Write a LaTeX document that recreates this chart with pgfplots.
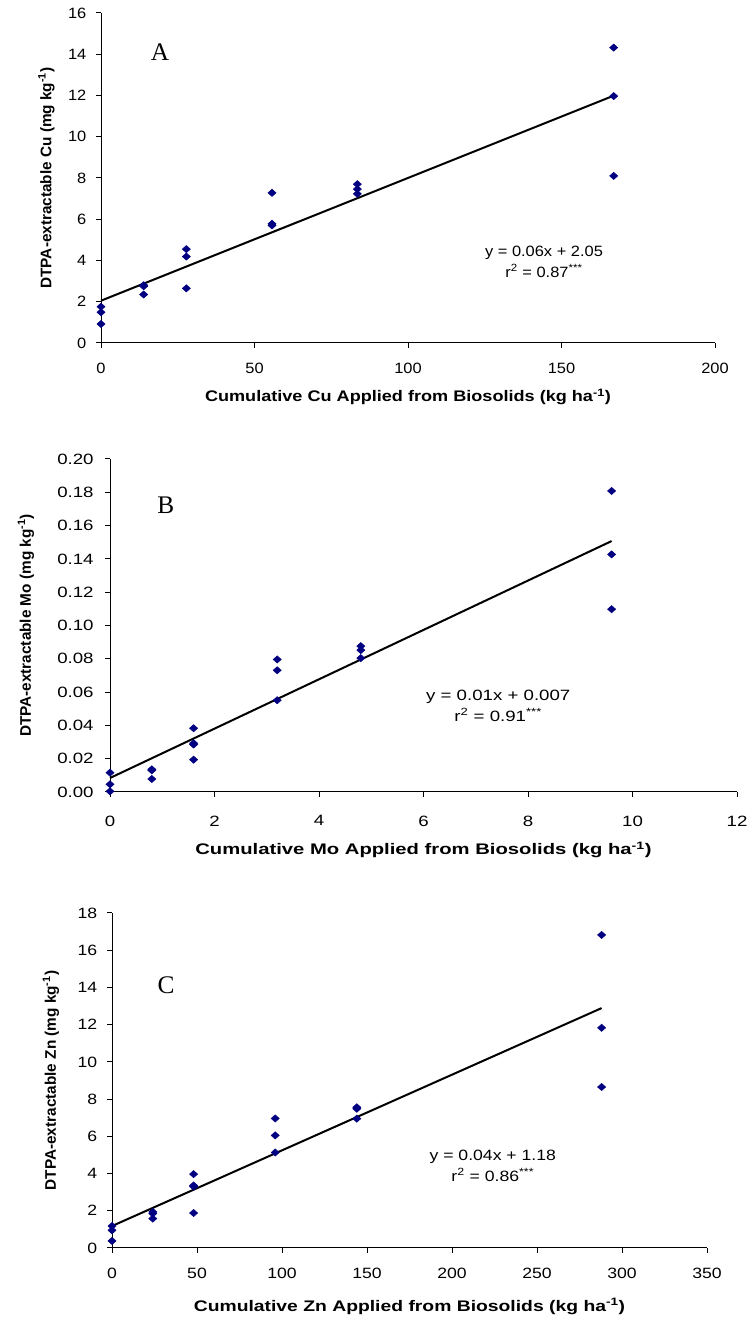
\documentclass[border=0pt]{standalone}
\usepackage{pgfplots}
\pgfplotsset{compat=1.18}
\usepackage{fontspec}
\setmainfont{Liberation Sans}
\newfontfamily\timesf{Liberation Serif}
\newfontfamily\fA{Liberation Sans}[FakeStretch=1.1]
\newfontfamily\fAx{Liberation Sans}[FakeStretch=1.18]
\newfontfamily\fB{Liberation Sans}[FakeStretch=1.25]
\newfontfamily\fBx{Liberation Sans}[FakeStretch=1.32]
\newfontfamily\fC{Liberation Sans}[FakeStretch=1.18]
\newfontfamily\fCx{Liberation Sans}[FakeStretch=1.26]
\definecolor{navy}{RGB}{0,0,128}
\pgfplotsset{
 panel/.style={
  scale only axis,
  axis x line*=bottom, axis y line*=left,
  axis line style={line width=0.75pt,black},
  tick align=outside,
  tick style={black, line width=0.75pt},
  major tick length=3.75pt,
  xtick pos=bottom, ytick pos=left,
  /pgf/number format/assume math mode=true,
  ylabel style={font=\bfseries\fontsize{11.5}{13}\selectfont, rotate=0},
  clip=false,
 },
 pts/.style={only marks, mark=diamond*, mark size=2.7pt, color=navy, mark options={fill=navy, xscale=1.5}},
 fit/.style={no marks, black, line width=1.5pt},
}
\begin{document}
\begin{tikzpicture}
\useasboundingbox (0,0) rectangle (560.25pt,989.25pt);
% ---------- Panel A ----------
\begin{axis}[panel, at={(75.75pt,732pt)}, anchor=origin,
  width=460.5pt, height=247.5pt,
  xmin=0, xmax=200, ymin=0, ymax=16,
  xtick={0,50,100,150,200}, ytick={0,2,...,16},
  tick label style={font=\fA\fontsize{11.2}{13}\selectfont},
  xticklabel style={yshift=-8pt},
  yticklabel style={xshift=-3.75pt},
  xlabel={Cumulative Cu Applied from Biosolids (kg ha\textsuperscript{-1})},
  ylabel={DTPA-extractable Cu (mg kg\textsuperscript{-1})},
  xlabel style={font=\fAx\bfseries\fontsize{11.5}{13}\selectfont, at={(axis description cs:0.5,0)}, anchor=center, yshift=-40.5pt},
  ylabel style={at={(axis description cs:-0.089,0.5)}, anchor=center},
]
\addplot[pts] table {
0 1.76
0 1.49
0 0.92
13.9 2.80
13.9 2.75
13.9 2.35
27.8 4.55
27.8 4.19
27.8 2.65
55.7 7.28
55.7 5.78
55.7 5.70
83.5 7.70
83.5 7.46
83.5 7.23
167 14.32
167 11.97
167 8.10
};
\addplot[fit] coordinates {(0,2.05) (167,11.99)};
\node[font=\timesf\fontsize{19}{21}\selectfont] at (axis cs:19.2,14.1) {A};
\node[font=\fA\fontsize{11.2}{15.75}\selectfont, align=center] at (axis cs:144.3,3.95) {y = 0.06x + 2.05\\ r\textsuperscript{2} = 0.87\textsuperscript{***}};
\end{axis}
% ---------- Panel B ----------
\begin{axis}[panel, at={(82.5pt,395.25pt)}, anchor=origin,
  width=470.25pt, height=249.75pt,
  xmin=0, xmax=12, ymin=0, ymax=0.2,
  xtick={0,2,...,12}, ytick={0,0.02,0.04,0.06,0.08,0.10,0.12,0.14,0.16,0.18,0.20},
  tick label style={font=\fB\fontsize{11.2}{13}\selectfont},
  xticklabel style={yshift=-10.5pt},
  yticklabel style={xshift=-5pt, /pgf/number format/.cd, fixed, fixed zerofill, precision=2},
  scaled y ticks=false,
  xlabel={Cumulative Mo Applied from Biosolids (kg ha\textsuperscript{-1})},
  ylabel={DTPA-extractable Mo (mg kg\textsuperscript{-1})},
  xlabel style={font=\fBx\bfseries\fontsize{11.5}{13}\selectfont, at={(axis description cs:0.5,0)}, anchor=center, yshift=-43.5pt},
  ylabel style={at={(axis description cs:-0.134,0.5)}, anchor=center},
]
\addplot[pts] table {
0 0.0116
0 0.0046
0 0.0004
0.8 0.0136
0.8 0.0130
0.8 0.0078
1.6 0.0383
1.6 0.0293
1.6 0.0285
1.6 0.0194
3.2 0.0796
3.2 0.0731
3.2 0.0551
4.8 0.0876
4.8 0.0852
4.8 0.0804
9.6 0.1808
9.6 0.1427
9.6 0.1098
};
\addplot[fit] coordinates {(0,0.0084) (9.6,0.1507)};
\node[font=\timesf\fontsize{19}{21}\selectfont] at (axis cs:1.07,0.172) {B};
\node[font=\fB\fontsize{11.2}{15.75}\selectfont, align=center] at (axis cs:7.43,0.052) {y = 0.01x + 0.007\\ r\textsuperscript{2} = 0.91\textsuperscript{***}};
\end{axis}
% ---------- Panel C ----------
\begin{axis}[panel, at={(84pt,53.25pt)}, anchor=origin,
  width=446.25pt, height=251.25pt,
  xmin=0, xmax=350, ymin=0, ymax=18,
  xtick={0,50,...,350}, ytick={0,2,...,18},
  tick label style={font=\fC\fontsize{11.2}{13}\selectfont},
  xticklabel style={yshift=-8pt},
  yticklabel style={xshift=-3.75pt},
  xlabel={Cumulative Zn Applied from Biosolids (kg ha\textsuperscript{-1})},
  ylabel={DTPA-extractable Zn (mg kg\textsuperscript{-1})},
  xlabel style={font=\fCx\bfseries\fontsize{11.5}{13}\selectfont, at={(axis description cs:0.5,0)}, anchor=center, yshift=-44pt},
  ylabel style={at={(axis description cs:-0.1025,0.5)}, anchor=center},
]
\addplot[pts] table {
0 1.18
0 0.95
0 0.38
24 1.94
24 1.85
24 1.58
48 3.97
48 3.36
48 3.30
48 1.88
96 6.96
96 6.05
96 5.13
144 7.56
144 7.48
144 6.95
288 16.82
288 11.83
288 8.65
};
\addplot[fit] coordinates {(0,1.18) (288,12.89)};
\node[font=\timesf\fontsize{19}{21}\selectfont] at (axis cs:31.8,14.1) {C};
\node[font=\fC\fontsize{11.2}{15.75}\selectfont, align=center] at (axis cs:224,4.43) {y = 0.04x + 1.18\\ r\textsuperscript{2} = 0.86\textsuperscript{***}};
\end{axis}
\end{tikzpicture}
\end{document}
